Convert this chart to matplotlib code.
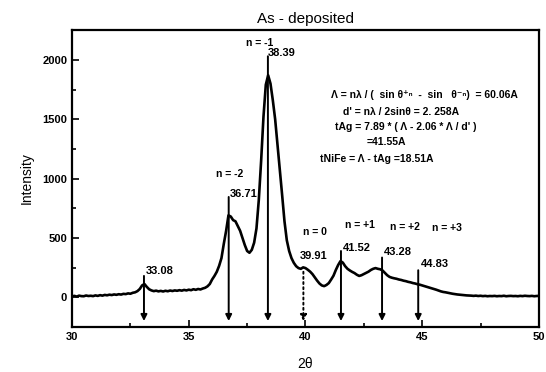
import numpy as np
import matplotlib
matplotlib.use('Agg')
import matplotlib.pyplot as plt

plt.rcParams['font.family'] = ['Liberation Sans', 'DejaVu Sans']

# XRD pattern, 2theta from 30 to 50 in 0.1 steps
two_theta = np.round(np.arange(300, 501) / 10, 1)
intensity = [
    8, 12, 6, 14, 10, 9, 15, 11, 13, 10,
    16, 12, 18, 14, 20, 17, 22, 19, 24, 21,
    26, 23, 29, 27, 33, 30, 38, 42, 52, 70,
    100, 112, 88, 68, 58, 52, 56, 50, 54, 49,
    55, 51, 57, 53, 58, 55, 60, 56, 62, 58,
    64, 60, 68, 63, 70, 66, 74, 80, 92, 112,
    150, 180, 215, 265, 330, 450, 560, 690, 680, 650,
    640, 600, 560, 500, 440, 390, 375, 400, 460, 580,
    820, 1150, 1520, 1790, 1870, 1800, 1660, 1500, 1290, 1080,
    860, 640, 480, 390, 330, 290, 262, 246, 240, 252,
    246, 232, 216, 195, 168, 140, 116, 100, 94, 104,
    120, 150, 182, 230, 272, 305, 292, 262, 240, 226,
    214, 204, 190, 180, 186, 196, 206, 216, 230, 240,
    246, 240, 236, 226, 206, 186, 172, 165, 160, 156,
    150, 146, 140, 136, 130, 126, 120, 116, 110, 106,
    100, 94, 88, 82, 76, 70, 64, 57, 50, 45,
    42, 38, 34, 30, 27, 24, 22, 20, 18, 16,
    15, 14, 12, 14, 11, 13, 10, 12, 9, 11,
    10, 12, 9, 11, 10, 13, 9, 11, 12, 10,
    11, 9, 12, 10, 13, 11, 10, 12, 9, 11,
    12,
]

# marked peaks: position, top of arrow, label text
peak_pos = [33.08, 36.71, 38.39, 39.91, 41.52, 43.28, 44.83]
peak_top = [180, 845, 2030, 215, 390, 335, 228]
peak_lbl = ['33.08', '36.71', '38.39', '39.91', '41.52', '43.28', '44.83']
lbl_xy = [(33.77, 221), (37.34, 874), (38.98, 2056), (40.34, 347),
          (42.19, 418), (43.97, 381), (45.55, 277)]

order_lbl = ['n = -2', 'n = -1', 'n = 0', 'n = +1', 'n = +2', 'n = +3']
order_xy = [(36.77, 1039), (38.05, 2140), (40.41, 549), (42.33, 613),
            (44.26, 594), (46.05, 586)]

calc_lines = [
    'Λ = nλ / (  sin θ⁺ⁿ  -  sin   θ⁻ⁿ)  = 60.06A',
    "d' = nλ / 2sinθ = 2. 258A",
    "tAg = 7.89 * ( Λ - 2.06 * Λ / d' )",
    '=41.55A',
    'tNiFe = Λ - tAg =18.51A',
]
calc_xy = [(331, 95), (343, 112), (335, 127), (367, 142), (320, 159)]

fig = plt.figure(figsize=(5.46, 3.72), dpi=100)
ax = fig.add_axes([0.132, 0.121, 0.855, 0.798])

ax.plot(two_theta, intensity, color='black', lw=1.9)

for i in range(len(peak_pos)):
    ls = ':' if peak_lbl[i] == '39.91' else '-'
    ax.annotate('', xy=(peak_pos[i], -200), xytext=(peak_pos[i], peak_top[i]),
                arrowprops=dict(arrowstyle='-|>', color='black', lw=1.4,
                                linestyle=ls, mutation_scale=9,
                                shrinkA=0, shrinkB=0))
    ax.text(lbl_xy[i][0], lbl_xy[i][1], peak_lbl[i], ha='center', va='center',
            fontsize=8, fontweight='bold')

for t, (x, y) in zip(order_lbl, order_xy):
    ax.text(x, y, t, ha='center', va='center', fontsize=7.5, fontweight='bold')

for t, (px, py) in zip(calc_lines, calc_xy):
    fig.text(px / 546, 1 - py / 372, t, ha='left', va='center',
             fontsize=7.5, fontweight='bold')

ax.set_xlim(30, 50)
ax.set_ylim(-245, 2250)
ax.set_xticks([30, 35, 40, 45, 50])
ax.set_yticks([0, 500, 1000, 1500, 2000])
ax.set_xticks(np.arange(30, 50.1, 2.5), minor=True)
ax.set_yticks(np.arange(-250, 2251, 250), minor=True)
ax.tick_params(which='both', direction='in', labelsize=8, width=1.2)
ax.tick_params(which='major', length=5)
ax.tick_params(which='minor', length=3)
for lab in ax.get_xticklabels() + ax.get_yticklabels():
    lab.set_fontweight('bold')
for s in ax.spines.values():
    s.set_linewidth(1.6)

ax.set_xlabel('2θ', fontsize=10, labelpad=11)
ax.set_ylabel('Intensity', fontsize=10, labelpad=6)
ax.set_title('As - deposited', fontsize=11, pad=5)

fig.savefig('out.png', dpi=100)
